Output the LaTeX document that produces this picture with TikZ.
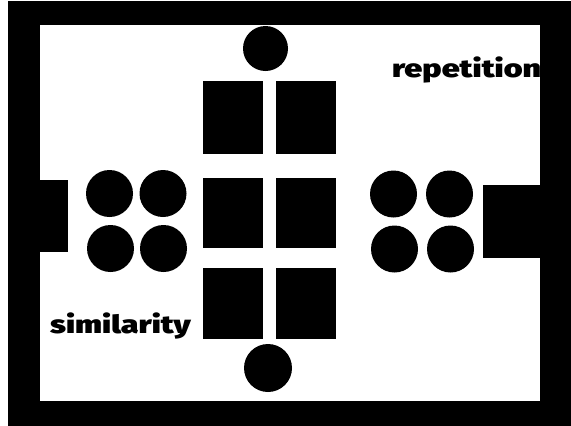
\documentclass[tikz,border=0pt]{standalone}
\usepackage{fontspec}
\newfontfamily\heavyfont[FakeStretch=1.29]{Fira Sans Black}
\usetikzlibrary{positioning}

\begin{document}
\begin{tikzpicture}[x=1pt, y=-1pt,
  disc/.style={circle, fill=black, inner sep=0pt, minimum size=47pt},
  tile/.style={rectangle, fill=black, inner sep=0pt, minimum width=60pt, minimum height=71pt},
  word/.style={font=\heavyfont\fontsize{25}{25}\selectfont, inner sep=0pt, anchor=base west}]
\useasboundingbox (0,0) rectangle (571,426);
% frame and side tabs
\fill[black] (8,1) rectangle (571,426);
\fill[white] (40,25) rectangle (540,401);
\fill[black] (40,180) rectangle (68,252);
\fill[black] (483,185) rectangle (540,258);
% single discs, top and bottom
\node[disc, minimum size=45pt] (topdisc) at (265.5,48.5) {};
\node[disc, minimum size=48pt] (botdisc) at (268,368) {};
% left and right groups of four
\foreach \x/\y/\n in {109.5/193.5/l1, 163/193.5/l2, 110.5/248.5/l3, 163.5/248.5/l4,
                      393.5/194/r1, 449.5/194/r2, 394.5/249/r3, 450.5/249/r4} {
  \node[disc] (\n) at (\x,\y) {};
}
% column of tiles
\foreach \y/\h/\n in {117.5/73/top, 213/70/mid, 303.5/71/bot} {
  \node[tile, minimum height=\h pt] (\n left) at (232.5,\y) {};
  \node[tile, minimum height=\h pt] (\n right) at (306,\y) {};
}
\node[word] (rep) at (392,77) {repetition};
\node[word] (sim) at (50,333) {similarity};
\end{tikzpicture}
\end{document}
